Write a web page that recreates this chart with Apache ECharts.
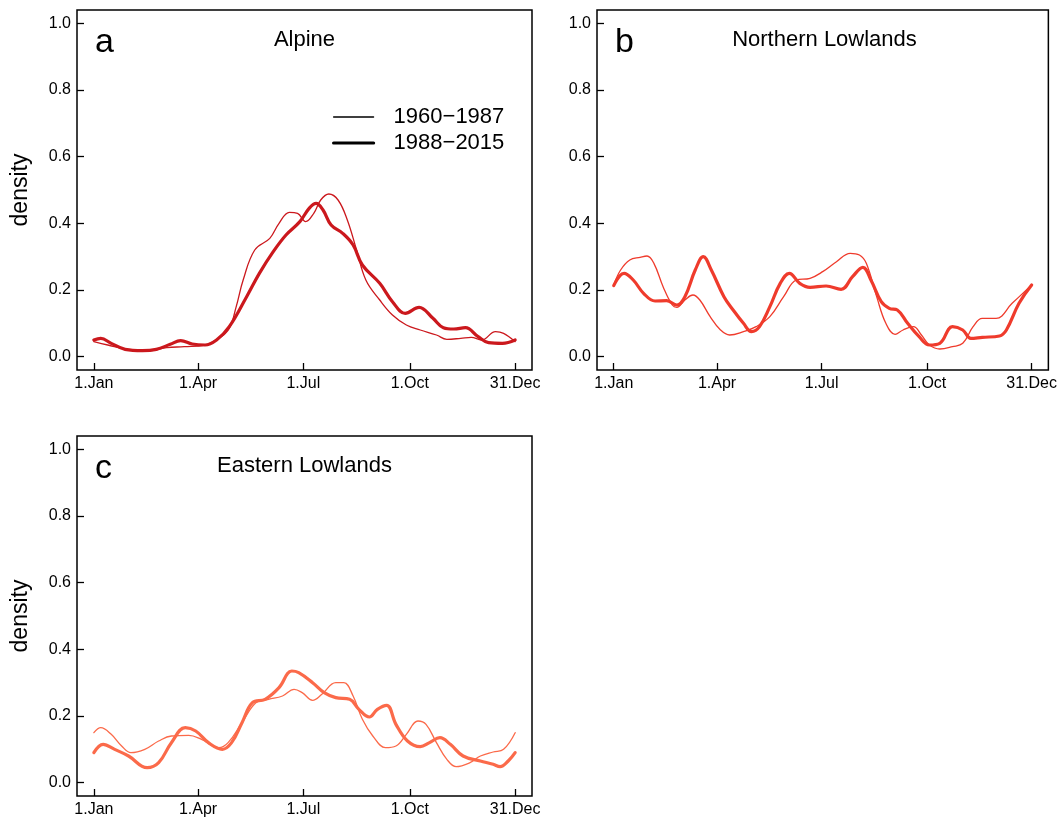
<!DOCTYPE html>
<html>
<head>
<meta charset="utf-8">
<title>density</title>
<script src="https://cdn.jsdelivr.net/npm/echarts@6/dist/echarts.min.js"></script>
<style>
    html, body { margin: 0; padding: 0; background: #fff; }
    #chart { width: 1060px; height: 818px; }
</style>
</head>
<body>
<div id="chart"></div>
<script>
// 坐标轴刻度
let tickDays = [1, 91, 182, 274, 365];
let tickNames = ['1.Jan', '1.Apr', '1.Jul', '1.Oct', '31.Dec'];
let densityTicks = [0, 0.2, 0.4, 0.6, 0.8, 1.0];
let periods = ['1960−1987', '1988−2015'];
let regions = ['Alpine', 'Northern Lowlands', 'Eastern Lowlands'];
let letters = ['a', 'b', 'c'];

// a: Alpine
let alpineEarlyDays = [1, 13, 31, 49, 64, 79, 97, 109, 118, 124, 130, 140, 153, 161, 170, 177, 184, 191, 197, 204, 212, 220, 228, 236, 248, 259, 271, 283, 297, 306, 318, 327, 336, 348, 355, 365];
let alpineEarlyVals = [0.045, 0.035, 0.022, 0.018, 0.027, 0.03, 0.035, 0.055, 0.085, 0.15, 0.23, 0.32, 0.355, 0.40, 0.433, 0.43, 0.405, 0.43, 0.47, 0.488, 0.47, 0.41, 0.32, 0.23, 0.17, 0.125, 0.095, 0.08, 0.065, 0.052, 0.055, 0.058, 0.05, 0.075, 0.07, 0.045];
let alpineLateDays = [1, 7, 16, 28, 43, 55, 67, 76, 86, 97, 107, 118, 133, 144, 156, 167, 179, 187, 193, 199, 206, 216, 225, 233, 248, 259, 270, 282, 294, 303, 312, 322, 333, 342, 354, 365];
let alpineLateVals = [0.05, 0.055, 0.04, 0.022, 0.018, 0.022, 0.037, 0.048, 0.038, 0.035, 0.05, 0.09, 0.18, 0.25, 0.315, 0.365, 0.405, 0.445, 0.46, 0.44, 0.395, 0.37, 0.335, 0.275, 0.22, 0.165, 0.13, 0.148, 0.115, 0.087, 0.083, 0.087, 0.06, 0.042, 0.04, 0.05];

// b: Northern Lowlands
let northEarlyDays = [1, 7, 15, 24, 30, 36, 44, 52, 56, 63, 70, 76, 85, 94, 102, 114, 125, 137, 149, 160, 172, 183, 195, 207, 215, 221, 230, 238, 246, 253, 262, 269, 276, 285, 296, 305, 314, 322, 334, 348, 365];
let northEarlyVals = [0.215, 0.26, 0.29, 0.298, 0.302, 0.28, 0.21, 0.155, 0.148, 0.17, 0.185, 0.17, 0.12, 0.08, 0.065, 0.075, 0.09, 0.12, 0.18, 0.23, 0.235, 0.255, 0.285, 0.31, 0.305, 0.28, 0.18, 0.10, 0.067, 0.08, 0.09, 0.065, 0.035, 0.023, 0.03, 0.04, 0.09, 0.115, 0.115, 0.16, 0.215];
let northLateDays = [1, 10, 18, 27, 37, 47, 56, 63, 72, 79, 86, 97, 105, 114, 121, 128, 137, 146, 154, 163, 172, 186, 199, 209, 218, 225, 234, 241, 248, 257, 267, 276, 285, 296, 305, 312, 322, 337, 343, 354, 365];
let northLateVals = [0.213, 0.25, 0.23, 0.19, 0.167, 0.168, 0.155, 0.18, 0.26, 0.30, 0.26, 0.18, 0.14, 0.10, 0.075, 0.09, 0.15, 0.22, 0.25, 0.22, 0.208, 0.212, 0.202, 0.24, 0.268, 0.23, 0.165, 0.145, 0.14, 0.10, 0.06, 0.035, 0.04, 0.09, 0.08, 0.055, 0.058, 0.062, 0.08, 0.16, 0.215];

// c: Eastern Lowlands
let eastEarlyDays = [1, 7, 16, 25, 33, 45, 57, 68, 83, 94, 109, 117, 129, 141, 152, 164, 174, 181, 190, 198, 210, 217, 225, 233, 242, 253, 262, 271, 281, 288, 297, 306, 314, 326, 335, 346, 355, 365];
let eastEarlyVals = [0.15, 0.165, 0.145, 0.11, 0.09, 0.10, 0.125, 0.14, 0.142, 0.13, 0.105, 0.12, 0.18, 0.24, 0.25, 0.26, 0.28, 0.27, 0.247, 0.265, 0.30, 0.30, 0.26, 0.19, 0.14, 0.105, 0.11, 0.145, 0.185, 0.175, 0.12, 0.07, 0.048, 0.06, 0.08, 0.092, 0.10, 0.15];
let eastLateDays = [1, 9, 19, 31, 47, 57, 68, 80, 89, 100, 112, 120, 129, 138, 149, 161, 172, 178, 190, 200, 210, 222, 230, 239, 246, 254, 262, 272, 283, 291, 300, 309, 320, 335, 346, 352, 359, 365];
let eastLateVals = [0.09, 0.115, 0.10, 0.08, 0.045, 0.06, 0.12, 0.165, 0.155, 0.12, 0.10, 0.12, 0.18, 0.24, 0.25, 0.285, 0.335, 0.33, 0.30, 0.27, 0.255, 0.25, 0.22, 0.197, 0.22, 0.232, 0.175, 0.125, 0.108, 0.12, 0.135, 0.115, 0.08, 0.065, 0.055, 0.048, 0.065, 0.09];

let colors = ['#cb181d', '#ef3b2c', '#fb6a4a'];
let fontFamily = '"Liberation Sans", Arial, Helvetica, sans-serif';

let chart = echarts.init(document.getElementById('chart'));

// 三个面板的位置
let grids = [
    {left: 77, top: 10, width: 455, height: 360},
    {left: 597, top: 10, width: 455, height: 360},
    {left: 77, top: 436, width: 455, height: 361}
];

function pairs(days, vals) {
    let out = [];
    for (let i = 0; i < days.length; i++) {
        out.push([days[i], vals[i]]);
    }
    return out;
}

let panelData = [
    [pairs(alpineEarlyDays, alpineEarlyVals), pairs(alpineLateDays, alpineLateVals)],
    [pairs(northEarlyDays, northEarlyVals), pairs(northLateDays, northLateVals)],
    [pairs(eastEarlyDays, eastEarlyVals), pairs(eastLateDays, eastLateVals)]
];

let xAxes = [];
let yAxes = [];
let series = [];
let titles = [];

grids.forEach(function (g, i) {
    xAxes.push({
        gridIndex: i,
        type: 'value',
        min: 1 - 364 * 0.04,
        max: 365 + 364 * 0.04,
        axisLine: {show: false, onZero: false},
        splitLine: {show: false},
        axisTick: {
            show: true,
            inside: true,
            length: 7,
            customValues: tickDays,
            lineStyle: {color: '#000', width: 1.3}
        },
        axisLabel: {
            customValues: tickDays,
            formatter: function (v) {
                return tickNames[tickDays.indexOf(v)];
            },
            margin: 6,
            color: '#000',
            fontSize: 16,
            fontFamily: fontFamily
        }
    });
    yAxes.push({
        gridIndex: i,
        type: 'value',
        min: -0.04,
        max: 1.04,
        axisLine: {show: false, onZero: false},
        splitLine: {show: false},
        axisTick: {
            show: true,
            inside: true,
            length: 7,
            customValues: densityTicks,
            lineStyle: {color: '#000', width: 1.3}
        },
        axisLabel: {
            customValues: densityTicks,
            formatter: function (v) {
                return v.toFixed(1);
            },
            margin: 6,
            color: '#000',
            fontSize: 16,
            fontFamily: fontFamily
        },
        name: i === 1 ? '' : 'density',
        nameLocation: 'middle',
        nameGap: 45,
        nameRotate: 90,
        nameTextStyle: {color: '#000', fontSize: 23, fontFamily: fontFamily}
    });

    // 两个时期
    periods.forEach(function (p, k) {
        series.push({
            name: p,
            type: 'line',
            xAxisIndex: i,
            yAxisIndex: i,
            data: panelData[i][k],
            smooth: 0.4,
            symbol: 'none',
            showSymbol: false,
            itemStyle: {color: colors[i]},
            lineStyle: {
                color: colors[i],
                width: k === 0 ? 1.3 : 3.2,
                cap: 'round',
                join: 'round'
            },
            z: k === 0 ? 3 : 2
        });
    });

    titles.push({
        text: letters[i],
        left: g.left + 18,
        top: g.top + 16,
        padding: 0,
        textStyle: {fontSize: 34, fontWeight: 'normal', color: '#000', fontFamily: fontFamily}
    });
    titles.push({
        text: regions[i],
        left: g.left + g.width / 2,
        top: g.top + 19,
        textAlign: 'center',
        padding: 0,
        textStyle: {fontSize: 22, fontWeight: 'normal', color: '#000', fontFamily: fontFamily}
    });
});

// 图例只画黑色线段，不要符号
let legendSymbol = {color: 'rgba(0,0,0,0)', borderWidth: 0, opacity: 0};

let option = {
    backgroundColor: '#fff',
    animation: false,
    title: titles,
    grid: grids.map(function (g) {
        return Object.assign({
            show: true,
            borderColor: '#000',
            borderWidth: 1.5,
            backgroundColor: 'transparent'
        }, g);
    }),
    legend: {
        orient: 'vertical',
        left: 332,
        top: 106,
        padding: 0,
        itemWidth: 40,
        itemHeight: 14,
        itemGap: 4,
        selectedMode: false,
        textStyle: {fontSize: 22, color: '#000', fontFamily: fontFamily, padding: [0, 0, 0, 15]},
        data: [
            {name: periods[0], itemStyle: legendSymbol, lineStyle: {color: '#000', width: 1.3}},
            {name: periods[1], itemStyle: legendSymbol, lineStyle: {color: '#000', width: 3.2}}
        ]
    },
    xAxis: xAxes,
    yAxis: yAxes,
    series: series
};

chart.setOption(option);
</script>
</body>
</html>
